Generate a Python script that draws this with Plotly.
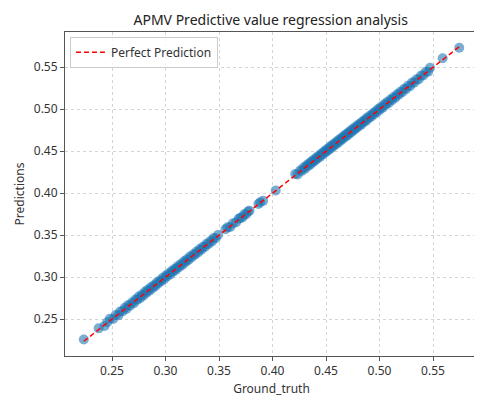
import plotly.graph_objects as go

ground_truth = [
    0.2236, 0.2375, 0.2430, 0.2455, 0.2480, 0.2510, 0.2535, 0.2560, 0.2575, 0.2600,
    0.2620, 0.2635, 0.2650, 0.2668, 0.2690, 0.2705, 0.2720, 0.2738, 0.2750, 0.2765,
    0.2780, 0.2795, 0.2810, 0.2822, 0.2835, 0.2850, 0.2862, 0.2878, 0.2890, 0.2905,
    0.2920, 0.2932, 0.2948, 0.2960, 0.2975, 0.2990, 0.3005, 0.3018, 0.3030, 0.3045,
    0.3060, 0.3072, 0.3088, 0.3100, 0.3115, 0.3130, 0.3145, 0.3160, 0.3172, 0.3188,
    0.3200, 0.3215, 0.3230, 0.3245, 0.3260, 0.3275, 0.3290, 0.3305, 0.3320, 0.3335,
    0.3350, 0.3368, 0.3385, 0.3400, 0.3418, 0.3435, 0.3450, 0.3470, 0.3490, 0.3560,
    0.3580, 0.3605, 0.3630, 0.3660, 0.3685, 0.3700, 0.3718, 0.3735, 0.3752, 0.3770,
    0.3785, 0.3868, 0.3885, 0.3912, 0.4030,
    0.4212, 0.4235, 0.4258, 0.4275, 0.4290, 0.4305, 0.4318, 0.4330, 0.4342, 0.4355,
    0.4365, 0.4378, 0.4388, 0.4400, 0.4410, 0.4422, 0.4432, 0.4445, 0.4455, 0.4465,
    0.4476, 0.4486, 0.4497, 0.4507, 0.4518, 0.4528, 0.4538, 0.4549, 0.4559, 0.4570,
    0.4580, 0.4590, 0.4601, 0.4612, 0.4622, 0.4633, 0.4643, 0.4654, 0.4665, 0.4675,
    0.4686, 0.4697, 0.4708, 0.4718, 0.4729, 0.4740, 0.4751, 0.4762, 0.4773, 0.4784,
    0.4795, 0.4806, 0.4817, 0.4828, 0.4840, 0.4852, 0.4864, 0.4876, 0.4888, 0.4900,
    0.4912, 0.4925, 0.4938, 0.4950, 0.4963, 0.4976, 0.4990, 0.5003, 0.5016, 0.5030,
    0.5044, 0.5058, 0.5072, 0.5087, 0.5102, 0.5117, 0.5132, 0.5148, 0.5164, 0.5180,
    0.5196, 0.5213, 0.5230, 0.5248, 0.5266, 0.5285, 0.5304, 0.5324, 0.5345, 0.5366,
    0.5388, 0.5410, 0.5432, 0.5455, 0.5472, 0.5590, 0.5745,
]

predictions = [
    0.2258, 0.2390, 0.2418, 0.2462, 0.2505, 0.2502, 0.2548, 0.2545, 0.2590, 0.2594,
    0.2636, 0.2622, 0.2668, 0.2660, 0.2702, 0.2690, 0.2735, 0.2731, 0.2768, 0.2752,
    0.2794, 0.2781, 0.2828, 0.2815, 0.2849, 0.2838, 0.2880, 0.2869, 0.2903, 0.2893,
    0.2938, 0.2925, 0.2960, 0.2951, 0.2992, 0.2978, 0.3021, 0.3010, 0.3046, 0.3033,
    0.3075, 0.3066, 0.3101, 0.3090, 0.3131, 0.3122, 0.3158, 0.3149, 0.3190, 0.3180,
    0.3214, 0.3204, 0.3247, 0.3236, 0.3273, 0.3266, 0.3305, 0.3293, 0.3336, 0.3327,
    0.3363, 0.3360, 0.3399, 0.3391, 0.3430, 0.3426, 0.3466, 0.3463, 0.3502, 0.3571,
    0.3594, 0.3598, 0.3641, 0.3653, 0.3697, 0.3708, 0.3711, 0.3748, 0.3746, 0.3781,
    0.3790, 0.3872, 0.3893, 0.3909, 0.4032,
    0.4228, 0.4224, 0.4271, 0.4266, 0.4306, 0.4293, 0.4332, 0.4321, 0.4357, 0.4343,
    0.4381, 0.4370, 0.4402, 0.4389, 0.4426, 0.4414, 0.4447, 0.4434, 0.4470, 0.4458,
    0.4491, 0.4475, 0.4513, 0.4498, 0.4532, 0.4517, 0.4555, 0.4540, 0.4573, 0.4559,
    0.4596, 0.4582, 0.4615, 0.4600, 0.4638, 0.4625, 0.4657, 0.4643, 0.4680, 0.4667,
    0.4701, 0.4686, 0.4724, 0.4710, 0.4743, 0.4729, 0.4766, 0.4754, 0.4787, 0.4773,
    0.4811, 0.4797, 0.4831, 0.4817, 0.4855, 0.4844, 0.4878, 0.4865, 0.4903, 0.4892,
    0.4926, 0.4914, 0.4953, 0.4942, 0.4977, 0.4965, 0.5005, 0.4995, 0.5030, 0.5019,
    0.5059, 0.5050, 0.5086, 0.5076, 0.5117, 0.5109, 0.5146, 0.5137, 0.5179, 0.5172,
    0.5210, 0.5202, 0.5245, 0.5240, 0.5280, 0.5274, 0.5318, 0.5316, 0.5358, 0.5355,
    0.5402, 0.5403, 0.5446, 0.5447, 0.5495, 0.5608, 0.5732,
]

x_ticks = [0.25, 0.30, 0.35, 0.40, 0.45, 0.50, 0.55]
x_tick_labels = ["0.25", "0.30", "0.35", "0.40", "0.45", "0.50", "0.55"]
y_ticks = [0.25, 0.30, 0.35, 0.40, 0.45, 0.50, 0.55]
y_tick_labels = ["0.25", "0.30", "0.35", "0.40", "0.45", "0.50", "0.55"]

lo = min(ground_truth)
hi = max(ground_truth)
span = hi - lo
rng = [lo - 0.05 * span, hi + 0.05 * span]

FONT = "Noto Sans"

fig = go.Figure()
fig.add_trace(go.Scatter(
    x=ground_truth, y=predictions, mode="markers",
    marker=dict(color="#1f77b4", size=10, opacity=0.6, line=dict(width=0)),
    showlegend=False,
))
fig.add_trace(go.Scatter(
    x=[lo, hi], y=[lo, hi], mode="lines",
    line=dict(color="#ff0000", width=1.5, dash="5px,3px"),
    name="Perfect Prediction",
))

axis_common = dict(
    showline=True, linecolor="#555555", linewidth=1, mirror=True,
    ticks="outside", ticklen=4, tickcolor="#555555",
    showgrid=True, gridcolor="#d4d4d4", griddash="3px,3px", gridwidth=1,
    zeroline=False, tickfont=dict(family=FONT, size=12, color="#333333"),
)

fig.update_layout(
    width=482, height=397,
    margin=dict(l=52, r=11, t=24, b=45),
    paper_bgcolor="white", plot_bgcolor="white",
    title=dict(text="APMV Predictive value regression analysis",
               x=0.545, xanchor="center", y=0.97, yanchor="middle",
               font=dict(family=FONT, size=14, color="#222222")),
    xaxis=dict(range=rng, tickvals=x_ticks, ticktext=x_tick_labels,
               title=dict(text="Ground_truth", standoff=6,
                          font=dict(family=FONT, size=12, color="#333333")),
               **axis_common),
    yaxis=dict(range=rng, tickvals=y_ticks, ticktext=y_tick_labels,
               title=dict(text="Predictions", standoff=6,
                          font=dict(family=FONT, size=12, color="#333333")),
               **axis_common),
    legend=dict(x=0.012, y=0.985, xanchor="left", yanchor="top",
                bgcolor="rgba(255,255,255,0.8)", bordercolor="#cccccc", borderwidth=1,
                font=dict(family=FONT, size=12, color="#333333")),
)

fig.write_html("out.html")
